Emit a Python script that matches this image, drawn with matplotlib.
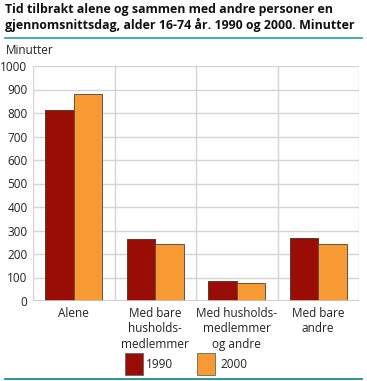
import numpy as np
import matplotlib.pyplot as plt
from matplotlib.patches import Rectangle
from matplotlib.lines import Line2D

categories = ["Alene", "Med bare\nhusholds-\nmedlemmer", "Med husholds-\nmedlemmer\nog andre", "Med bare\nandre"]
v1990 = [814, 265, 85, 267]
v2000 = [879, 241, 77, 241]
series_names = ["1990", "2000"]
colors = ["#990d06", "#f79a33"]

plt.rcParams['font.family'] = ['Open Sans', 'DejaVu Sans']

W, H = 367, 381
fig = plt.figure(figsize=(W / 100, H / 100), dpi=100)

# plot area in pixels
left, right, top, bottom = 33, 359, 66, 301
ax = fig.add_axes([left / W, 1 - bottom / H, (right - left) / W, (bottom - top) / H])

x = np.arange(len(categories))
bw = 0.352
ax.bar(x - bw / 2, v1990, bw, color=colors[0], edgecolor="#5a3a2a", linewidth=0.7, zorder=3)
ax.bar(x + bw / 2, v2000, bw, color=colors[1], edgecolor="#6b5040", linewidth=0.7, zorder=3)

ax.set_xlim(-0.5, len(categories) - 0.5)
ax.set_ylim(0, 1000)
ax.set_yticks(np.arange(0, 1001, 100))
ax.tick_params(axis='y', length=0, labelsize=8.5, pad=4, colors="#222222")
ax.set_xticks(x)
ax.set_xticklabels(categories, fontsize=8.5, linespacing=1.25, color="#222222")
ax.tick_params(axis='x', length=0, pad=4)

ax.grid(axis='y', color="#d4d4d4", linewidth=1, zorder=0)
for b in np.arange(-0.5, len(categories), 1.0):
    ax.axvline(b, color="#d4d4d4", linewidth=1, zorder=0)
for s in ax.spines.values():
    s.set_visible(False)
ax.axhline(0, color="#c8c8c8", linewidth=1.2, zorder=4)

fig.text(6 / W, 1 - 50 / H, "Minutter", fontsize=8.5, va='center', ha='left', color="#222222")

fig.text(5 / W, 1 - 3 / H,
         "Tid tilbrakt alene og sammen med andre personer en\ngjennomsnittsdag, alder 16-74 år. 1990 og 2000. Minutter",
         fontsize=8.9, fontweight='bold', va='top', ha='left', linespacing=1.2, color="#111111")

fig.add_artist(Line2D([5 / W, 362 / W], [1 - 38 / H, 1 - 38 / H], color="#3aa6a6", linewidth=1.3))
fig.add_artist(Line2D([5 / W, 362 / W], [1 - 379 / H, 1 - 379 / H], color="#1e8c8c", linewidth=1.3))

# legend
for (lx, tx), name, c in zip([(125, 146), (197, 220)], series_names, colors):
    fig.add_artist(Rectangle((lx / W, 1 - 375 / H), 18 / W, 22 / H, facecolor=c,
                             edgecolor="#666666", linewidth=0.6, transform=fig.transFigure))
    fig.text(tx / W, 1 - 364 / H, name, fontsize=8.5, va='center', ha='left', color="#222222")

fig.savefig("out.png", dpi=100)
